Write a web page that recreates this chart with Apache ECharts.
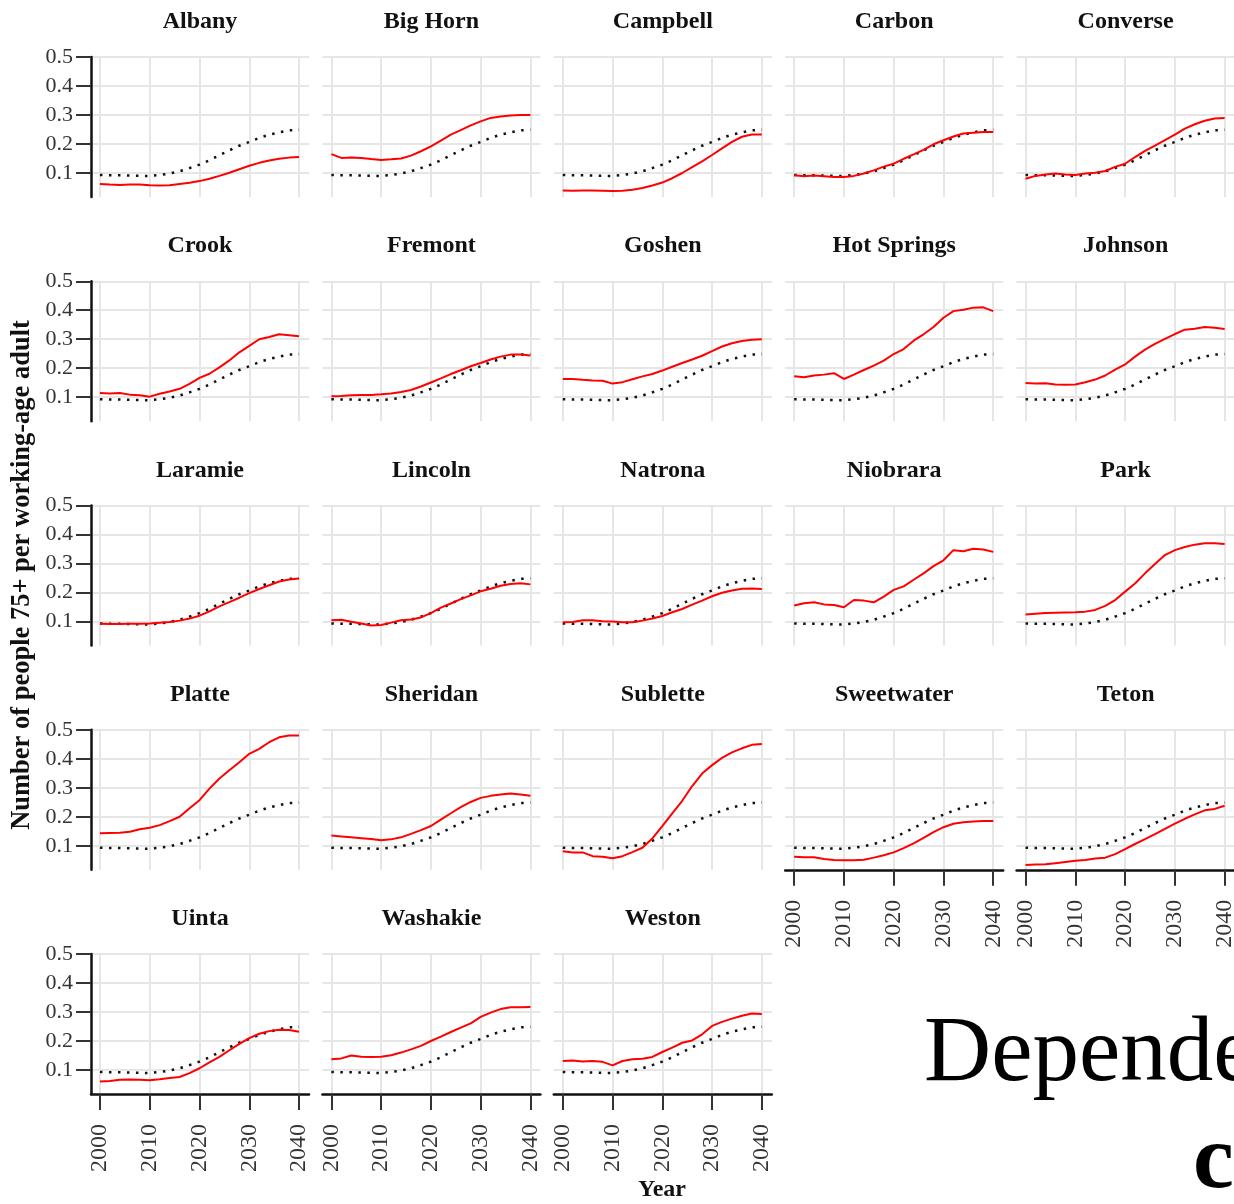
<!DOCTYPE html>
<html>
<head>
<meta charset="utf-8">
<script src="https://cdn.jsdelivr.net/npm/echarts@6/dist/echarts.min.js"></script>
<style>
  html, body { margin: 0; padding: 0; background: #fff; }
  #chart { width: 1234px; height: 1204px; }
</style>
</head>
<body>
<div id="chart"></div>
<script>
const years = [2000, 2002, 2004, 2006, 2008, 2010, 2012, 2014, 2016, 2018, 2020, 2022, 2024, 2026, 2028, 2030, 2032, 2034, 2036, 2038, 2040]
const yearTicks = [2000, 2010, 2020, 2030, 2040]
const ratioTicks = [0.1, 0.2, 0.3, 0.4, 0.5]

// dotted reference line (same in every panel)
const state = [0.093, 0.092, 0.092, 0.091, 0.090, 0.090, 0.093, 0.098, 0.106, 0.117, 0.129, 0.144, 0.161, 0.178, 0.194, 0.207, 0.221, 0.232, 0.240, 0.247, 0.249]

const albany     = [0.062, 0.060, 0.059, 0.060, 0.060, 0.058, 0.057, 0.058, 0.062, 0.066, 0.072, 0.080, 0.090, 0.101, 0.113, 0.125, 0.135, 0.143, 0.149, 0.153, 0.155]
const bigHorn    = [0.165, 0.152, 0.153, 0.152, 0.148, 0.145, 0.147, 0.150, 0.160, 0.175, 0.192, 0.212, 0.232, 0.248, 0.264, 0.278, 0.290, 0.295, 0.298, 0.300, 0.300]
const campbell   = [0.040, 0.039, 0.040, 0.040, 0.039, 0.038, 0.039, 0.042, 0.048, 0.057, 0.067, 0.082, 0.100, 0.120, 0.140, 0.162, 0.185, 0.207, 0.225, 0.233, 0.233]
const carbon     = [0.092, 0.089, 0.091, 0.089, 0.086, 0.086, 0.090, 0.098, 0.109, 0.122, 0.132, 0.149, 0.164, 0.180, 0.199, 0.213, 0.226, 0.236, 0.239, 0.241, 0.241]
const converse   = [0.080, 0.090, 0.095, 0.098, 0.095, 0.093, 0.098, 0.101, 0.107, 0.121, 0.132, 0.155, 0.176, 0.194, 0.213, 0.232, 0.253, 0.268, 0.280, 0.288, 0.290]
const crook      = [0.115, 0.113, 0.115, 0.109, 0.107, 0.102, 0.112, 0.120, 0.129, 0.146, 0.167, 0.181, 0.203, 0.227, 0.255, 0.277, 0.300, 0.308, 0.317, 0.314, 0.310]
const fremont    = [0.103, 0.104, 0.107, 0.108, 0.108, 0.110, 0.113, 0.118, 0.125, 0.137, 0.151, 0.165, 0.180, 0.193, 0.207, 0.218, 0.230, 0.240, 0.247, 0.247, 0.244]
const goshen     = [0.163, 0.163, 0.160, 0.158, 0.157, 0.147, 0.152, 0.162, 0.172, 0.180, 0.192, 0.205, 0.218, 0.230, 0.243, 0.259, 0.275, 0.286, 0.294, 0.298, 0.300]
const hotSprings = [0.172, 0.169, 0.175, 0.178, 0.183, 0.163, 0.178, 0.194, 0.209, 0.226, 0.249, 0.266, 0.295, 0.317, 0.342, 0.374, 0.397, 0.402, 0.409, 0.410, 0.397]
const johnson    = [0.149, 0.147, 0.148, 0.144, 0.143, 0.144, 0.152, 0.161, 0.175, 0.195, 0.213, 0.240, 0.264, 0.284, 0.301, 0.318, 0.333, 0.336, 0.342, 0.340, 0.335]
const laramie    = [0.092, 0.091, 0.091, 0.092, 0.092, 0.093, 0.096, 0.098, 0.103, 0.110, 0.120, 0.135, 0.152, 0.167, 0.182, 0.198, 0.212, 0.225, 0.238, 0.245, 0.248]
const lincoln    = [0.104, 0.106, 0.099, 0.093, 0.086, 0.088, 0.096, 0.104, 0.107, 0.114, 0.129, 0.148, 0.162, 0.177, 0.190, 0.204, 0.213, 0.223, 0.229, 0.232, 0.228]
const natrona    = [0.097, 0.098, 0.104, 0.104, 0.101, 0.100, 0.097, 0.097, 0.103, 0.110, 0.119, 0.132, 0.143, 0.158, 0.172, 0.187, 0.199, 0.207, 0.213, 0.214, 0.212]
const niobrara   = [0.155, 0.163, 0.166, 0.159, 0.157, 0.149, 0.174, 0.172, 0.166, 0.186, 0.209, 0.221, 0.244, 0.266, 0.291, 0.311, 0.346, 0.342, 0.351, 0.348, 0.340]
const park       = [0.124, 0.127, 0.129, 0.130, 0.131, 0.132, 0.134, 0.140, 0.154, 0.174, 0.203, 0.231, 0.266, 0.298, 0.329, 0.346, 0.357, 0.365, 0.370, 0.370, 0.367]
const platte     = [0.143, 0.144, 0.145, 0.148, 0.157, 0.162, 0.171, 0.185, 0.200, 0.229, 0.257, 0.297, 0.332, 0.360, 0.388, 0.417, 0.434, 0.457, 0.474, 0.480, 0.480]
const sheridan   = [0.135, 0.132, 0.129, 0.126, 0.123, 0.119, 0.122, 0.129, 0.141, 0.154, 0.168, 0.190, 0.212, 0.233, 0.251, 0.265, 0.272, 0.277, 0.280, 0.277, 0.272]
const sublette   = [0.081, 0.077, 0.077, 0.064, 0.062, 0.057, 0.064, 0.078, 0.093, 0.125, 0.168, 0.212, 0.255, 0.306, 0.349, 0.378, 0.403, 0.422, 0.436, 0.448, 0.451]
const sweetwater = [0.062, 0.060, 0.060, 0.054, 0.051, 0.050, 0.050, 0.052, 0.059, 0.067, 0.077, 0.092, 0.108, 0.127, 0.147, 0.164, 0.176, 0.181, 0.184, 0.185, 0.185]
const teton      = [0.034, 0.035, 0.036, 0.040, 0.044, 0.048, 0.051, 0.056, 0.059, 0.071, 0.088, 0.106, 0.123, 0.140, 0.158, 0.176, 0.193, 0.208, 0.222, 0.227, 0.238]
const uinta      = [0.060, 0.062, 0.066, 0.067, 0.066, 0.065, 0.068, 0.072, 0.076, 0.089, 0.106, 0.126, 0.145, 0.168, 0.190, 0.210, 0.225, 0.234, 0.239, 0.238, 0.232]
const washakie   = [0.137, 0.140, 0.150, 0.146, 0.145, 0.146, 0.151, 0.160, 0.171, 0.183, 0.200, 0.215, 0.231, 0.246, 0.261, 0.283, 0.298, 0.310, 0.316, 0.316, 0.317]
const weston     = [0.131, 0.133, 0.129, 0.131, 0.128, 0.116, 0.131, 0.137, 0.139, 0.145, 0.162, 0.177, 0.194, 0.202, 0.223, 0.252, 0.266, 0.277, 0.287, 0.295, 0.293]

const counties = ['Albany', 'Big Horn', 'Campbell', 'Carbon', 'Converse', 'Crook', 'Fremont', 'Goshen', 'Hot Springs', 'Johnson',
  'Laramie', 'Lincoln', 'Natrona', 'Niobrara', 'Park', 'Platte', 'Sheridan', 'Sublette', 'Sweetwater', 'Teton',
  'Uinta', 'Washakie', 'Weston']
const countyValues = [albany, bigHorn, campbell, carbon, converse, crook, fremont, goshen, hotSprings, johnson,
  laramie, lincoln, natrona, niobrara, park, platte, sheridan, sublette, sweetwater, teton,
  uinta, washakie, weston]

const SERIF = "'Liberation Serif', 'DejaVu Serif', serif"
const NCOL = 5
const colStep = 231.4
const rowStep = 224.25
const plotLeft = 91
const plotTop = 57
const plotW = 218
const plotH = 140

const chart = echarts.init(document.getElementById('chart'), null, { renderer: 'canvas' })

const grids = [], xAxes = [], yAxes = [], series = [], titles = []
const n = counties.length

counties.forEach((name, i) => {
  const r = Math.floor(i / NCOL)
  const c = i % NCOL
  const left = plotLeft + colStep * c
  const top = plotTop + rowStep * r
  // the bottom panel of each column carries the year axis
  const isBottom = i + NCOL >= n
  const isLeft = c === 0

  grids.push({ left: left, top: top, width: plotW, height: plotH, containLabel: false, outerBoundsMode: 'none' })
  titles.push({
    text: name,
    left: left + plotW / 2,
    top: top - 47,
    padding: 0,
    textAlign: 'center',
    textStyle: { fontFamily: SERIF, fontWeight: 'bold', fontSize: 24, color: '#111' }
  })

  xAxes.push({
    gridIndex: i,
    type: 'value',
    min: 1998.2,
    max: 2042,
    axisLine: { show: isBottom, onZero: false, lineStyle: { color: '#111', width: 2.5 } },
    axisTick: { show: isBottom, customValues: yearTicks, length: 16, lineStyle: { color: '#333', width: 2 } },
    axisLabel: {
      show: isBottom, customValues: yearTicks, rotate: 90, margin: 30,
      fontFamily: SERIF, fontSize: 24, color: '#333',
      formatter: v => String(v)
    },
    splitLine: { show: true, lineStyle: { color: '#e6e6e6', width: 2 } }
  })
  yAxes.push({
    gridIndex: i,
    type: 'value',
    min: 0.0172,
    max: 0.5,
    axisLine: { show: isLeft, lineStyle: { color: '#111', width: 2.5 } },
    axisTick: { show: isLeft, customValues: ratioTicks, length: 15, lineStyle: { color: '#333', width: 2 } },
    axisLabel: {
      show: isLeft, customValues: ratioTicks, margin: 18,
      fontFamily: SERIF, fontSize: 22, color: '#333',
      formatter: v => v.toFixed(1)
    },
    splitLine: { show: true, lineStyle: { color: '#e6e6e6', width: 2 } }
  })

  series.push({
    type: 'line',
    xAxisIndex: i,
    yAxisIndex: i,
    data: years.map((y, k) => [y, state[k]]),
    showSymbol: false,
    silent: true,
    lineStyle: { color: '#111', width: 2.5, type: [2.5, 6.5] },
    z: 2
  })
  series.push({
    type: 'line',
    xAxisIndex: i,
    yAxisIndex: i,
    data: years.map((y, k) => [y, countyValues[i][k]]),
    showSymbol: false,
    silent: true,
    lineStyle: { color: '#f00', width: 2 },
    z: 3
  })
})

chart.setOption({
  animation: false,
  title: titles,
  grid: grids,
  xAxis: xAxes,
  yAxis: yAxes,
  series: series,
  graphic: [
    {
      type: 'text',
      x: 22, y: 575,
      rotation: Math.PI / 2,
      style: {
        text: 'Number of people 75+ per working-age adult',
        fontFamily: SERIF, fontWeight: 'bold', fontSize: 26.5, fill: '#111',
        align: 'center', verticalAlign: 'middle'
      }
    },
    {
      type: 'text',
      x: 662, y: 1190,
      style: {
        text: 'Year',
        fontFamily: SERIF, fontWeight: 'bold', fontSize: 24, fill: '#111',
        align: 'center', verticalAlign: 'middle'
      }
    },
    {
      type: 'text',
      x: 924, y: 1102,
      style: {
        text: 'Dependency ratio',
        fontFamily: SERIF, fontSize: 93, fill: '#000',
        align: 'left', verticalAlign: 'bottom'
      }
    },
    {
      type: 'text',
      x: 1193, y: 1209,
      style: {
        text: 'county',
        fontFamily: SERIF, fontWeight: 'bold', fontSize: 92, fill: '#000',
        align: 'left', verticalAlign: 'bottom'
      }
    }
  ]
})
</script>
</body>
</html>
